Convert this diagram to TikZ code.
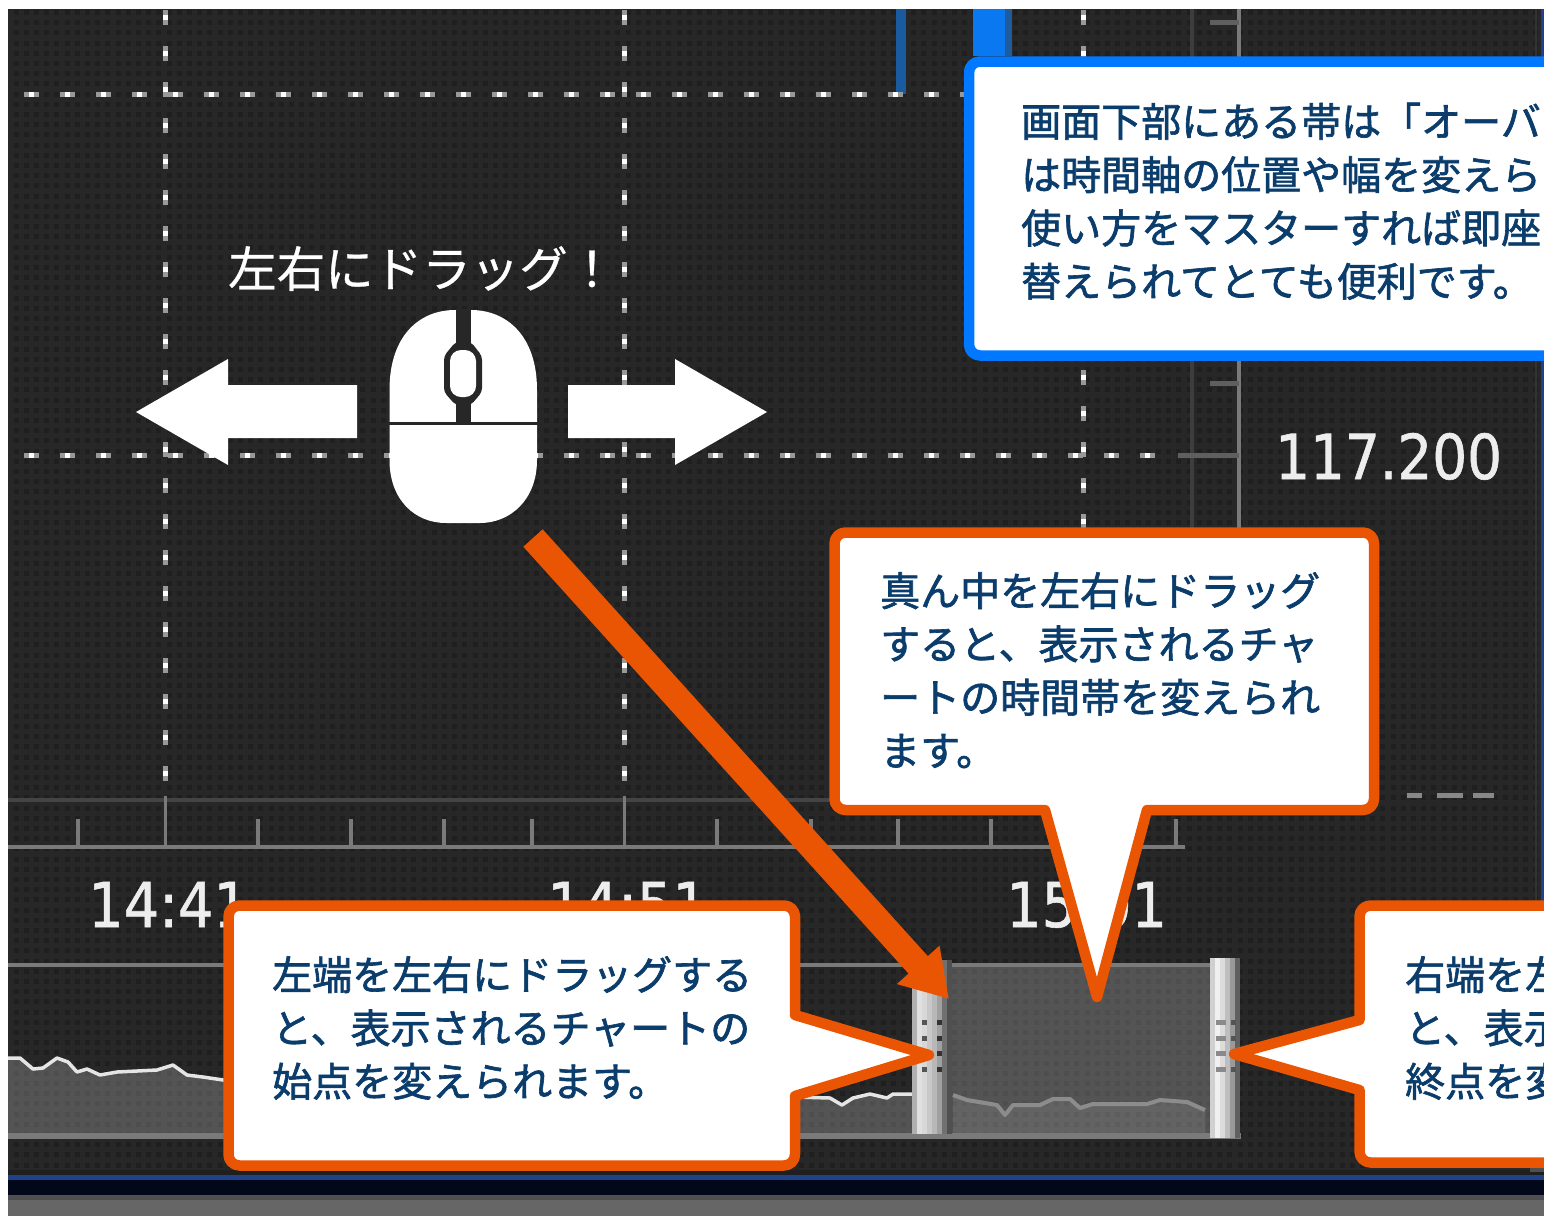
\documentclass[tikz,border=0pt]{standalone}
\usepackage{fontspec}
\usepackage{graphicx}
\usetikzlibrary{arrows.meta}
\newfontfamily\jpfont[FakeBold=0.6]{Noto Sans CJK JP}
\newfontfamily\jpbold[FakeBold=1.6]{Noto Sans CJK JP}
\newfontfamily\chartfont[FakeBold=1.0]{DejaVu Sans}
\definecolor{panel}{HTML}{272727}
\definecolor{dotc}{HTML}{1F1F1F}
\definecolor{axisc}{HTML}{7A7A7A}
\definecolor{faintc}{HTML}{444444}
\definecolor{orangec}{HTML}{EA5504}
\definecolor{bluec}{HTML}{0078FF}
\definecolor{inkc}{HTML}{0A3C6C}
\definecolor{dashc}{HTML}{999999}
\definecolor{shorttick}{HTML}{5F5F5F}
\tikzset{
  hexfill/.code={\definecolor{tmpfill}{HTML}{#1}\pgfkeysalso{fill=tmpfill}},
  hexdraw/.code={\definecolor{tmpdraw}{HTML}{#1}\pgfkeysalso{draw=tmpdraw}},
  grida/.style={line width=5pt,color=dashc,dash pattern=on 15pt off 21pt},
  gridb/.style={line width=5pt,color=white,dash pattern=on 5pt off 31pt,dash phase=-5pt},
  axisline/.style={line width=3.5pt,color=axisc},
  tickline/.style={line width=3.5pt,color=axisc},
  pricetick/.style={line width=5pt,color=shorttick},
  callout/.style={draw=orangec,fill=white,line width=10.5pt,line join=round},
  calloutblue/.style={draw=bluec,fill=white,line width=10.5pt,line join=round},
  calltext/.style={inner sep=0pt,anchor=north west,align=left,text=inkc,font=\jpbold\fontsize{40}{53.3}\selectfont},
  charttext/.style={inner sep=0pt,anchor=base west,text=white!93!black,font=\chartfont\fontsize{62}{62}\selectfont},
  chartfill/.style={fill=white,fill opacity=0.213,draw=none},
  windowfill/.style={fill=white,fill opacity=0.09,draw=none}
}
\begin{document}
\begin{tikzpicture}[x=1pt,y=-1pt]
\useasboundingbox (0,0) rectangle (1544,1216);
\clip (0,0) rectangle (1544,1216);
\fill[white] (0,0) rectangle (1544,1216);
\fill[panel] (8,9) rectangle (1544,1216);
% dot texture
\begin{scope}
\clip (8,9) rectangle (1544,1216);
\foreach \k in {0,...,116}{
  \draw[dotc,line width=5pt,dash pattern=on 5pt off 5.2pt] (13.5,12.5+10.2*\k) -- (1544,12.5+10.2*\k);
}
\end{scope}
% bars at the top
\fill[hexfill=1A5A9E] (896,9) rectangle (905.5,94);
\fill[hexfill=1F5C9E] (1004,9) rectangle (1012,56);
\fill[hexfill=0A78F0] (973,9) rectangle (1005,56);
% price axis
\draw[line width=4pt,color=faintc!90!black] (1192,9) -- (1192,530);
\draw[axisline] (1239,9) -- (1239,530);
\draw[pricetick] (1210,22) -- (1239,22);
\draw[pricetick] (1210,383) -- (1239,383);
\draw[pricetick] (1178,455) -- (1239,455);
% right edge
\draw[line width=1.5pt,hexdraw=333333] (1536,9) -- (1536,1172);
\draw[line width=3pt,hexdraw=22408A] (1542,9) -- (1542,1172);
% dashed grid
\foreach \gx in {165.5,624.5,1083.5}{
  \draw[grida] (\gx,10) -- (\gx,796);
  \draw[gridb] (\gx,10) -- (\gx,796);
}
\foreach \gy in {94.5,455}{
  \draw[grida] (24,\gy) -- (1175,\gy);
  \draw[gridb] (24,\gy) -- (1175,\gy);
}
\fill[hexfill=888888] (1407,793) rectangle (1422,798);
\fill[hexfill=888888] (1437,793) rectangle (1463,798);
\fill[hexfill=888888] (1473,793) rectangle (1494,798);
% time axis
\draw[line width=4pt,color=faintc] (8,800) -- (835,800);
\draw[axisline,line width=4pt] (8,847) -- (1185,847);
\foreach \tx in {78,258,351,444,532,717,811,898,991,1176}{
  \draw[tickline] (\tx,819) -- (\tx,847);
}
\foreach \tx in {165.5,624.5}{
  \draw[tickline] (\tx,796) -- (\tx,847);
}
% chart texts
\node[charttext] (priceL) at (1275,479) {\scalebox{0.885}[1]{117.200}};
\node[charttext] (timeA) at (88,927) {\scalebox{0.9}[1]{14:41}};
\node[charttext] (timeB) at (547,927) {\scalebox{0.9}[1]{14:51}};
\node[charttext] (timeC) at (1006,927) {\scalebox{0.9}[1]{15:01}};
% overview strip
\draw[axisline,line width=4pt] (8,965) -- (1210,965);
\fill[chartfill] (8,1058) -- (20,1058) -- (33,1069) -- (43,1068) -- (57,1058) -- (68,1062) -- (77,1072) -- (87,1069) -- (100,1075) -- (117,1072) -- (157,1070) -- (173,1065) -- (187,1075) -- (203,1077) -- (223,1080) -- (830,1098) -- (842,1105) -- (853,1098) -- (870,1094) -- (887,1098) -- (893,1094) -- (912,1094) -- (912,1134) -- (8,1134) -- cycle;
\draw[line width=3.5pt,color=white!90!black,line join=round] (8,1058) -- (20,1058) -- (33,1069) -- (43,1068) -- (57,1058) -- (68,1062) -- (77,1072) -- (87,1069) -- (100,1075) -- (117,1072) -- (157,1070) -- (173,1065) -- (187,1075) -- (203,1077) -- (223,1080) -- (830,1098) -- (842,1105) -- (853,1098) -- (870,1094) -- (887,1098) -- (893,1094) -- (912,1094);
\fill[chartfill] (947,967) rectangle (1210,1133);
\fill[windowfill] (953,1095) -- (967,1100) -- (997,1105) -- (1005,1115) -- (1013,1105) -- (1040,1105) -- (1053,1099) -- (1070,1099) -- (1080,1108) -- (1093,1104) -- (1147,1104) -- (1160,1100) -- (1187,1102) -- (1205,1110) -- (1205,1133) -- (953,1133) -- cycle;
\draw[line width=4pt,hexdraw=8C8C8C,line join=round] (953,1095) -- (967,1100) -- (997,1105) -- (1005,1115) -- (1013,1105) -- (1040,1105) -- (1053,1099) -- (1070,1099) -- (1080,1108) -- (1093,1104) -- (1147,1104) -- (1160,1100) -- (1187,1102) -- (1205,1110);
\draw[line width=5.5pt,color=axisc] (8,1136) -- (1241,1136);
% handles
\foreach \hx/\hc in {912/B0B0B0,917/E0E0E0,922/D8D8D8,927/C8C8C8,932/B8B8B8,937/A0A0A0,942/707070,947/505050}{
  \fill[hexfill=\hc] (\hx,960) rectangle (\hx+5.2,1134);
}
\foreach \hx/\hc in {1210/D0D0D0,1215/F0F0F0,1220/DCDCDC,1225/BEBEBE,1230/9A9A9A,1235/606060}{
  \fill[hexfill=\hc] (\hx,958) rectangle (\hx+5.2,1138);
}
\foreach \gy in {1022.3,1038,1053.3,1069}{
  \fill[hexfill=555555] (922,\gy-2.5) rectangle (927,\gy+2.5);
  \fill[hexfill=333333] (937,\gy-2.5) rectangle (942,\gy+2.5);
  \fill[hexfill=8A8A8A] (1216,\gy-2.5) rectangle (1226,\gy+2.5);
  \fill[hexfill=555555] (1231,\gy-2.5) rectangle (1236,\gy+2.5);
}
% bottom bands
\fill[hexfill=1F1F1F] (8,1170) rectangle (1544,1175);
\fill[hexfill=1F4288] (8,1175) rectangle (1544,1180);
\fill[hexfill=02081A] (8,1180) rectangle (1544,1195);
\fill[hexfill=4F4F4F] (8,1195) rectangle (1544,1200);
\fill[hexfill=666666] (8,1200) rectangle (1544,1216);
\fill[hexfill=4F4F4F] (1530,1165) rectangle (1544,1172);
% mouse
\fill[white] (389.5,390) .. controls (389.5,335) and (420,310) .. (455,310) -- (471,310) .. controls (506,310) and (537,335) .. (537,390) -- (537,460) .. controls (537,500) and (510,523) .. (480,523) -- (446,523) .. controls (415,523) and (389.5,500) .. (389.5,460) -- cycle;
\fill[panel] (455.5,309) rectangle (471,424);
\fill[panel,rounded corners=4pt] (455.5,342) -- (444,356) -- (444,392) -- (455.5,405) -- (471,405) -- (482,392) -- (482,356) -- (471,342) -- cycle;
\fill[panel] (388,421.5) rectangle (539,425);
\fill[white,rounded corners=11pt] (450,350) rectangle (476,397);
% drag arrows
\fill[white] (357,385) -- (228,385) -- (228,359) -- (136,412) -- (228,465) -- (228,438) -- (357,438) -- cycle;
\fill[white] (568,385) -- (675,385) -- (675,359) -- (767,412) -- (675,465) -- (675,438) -- (568,438) -- cycle;
\node[inner sep=0pt,anchor=base west,text=white,font=\jpfont\fontsize{48.5}{48.5}\selectfont] (dragtitle) at (228,287) {左右にドラッグ！};
% orange arrow
\coordinate (arrowstart) at (533,538);
\coordinate (arrowtip) at (949,999);
\draw[orangec,line width=26pt,-{Triangle[length=46pt,width=54pt]}] (arrowstart) -- (arrowtip);
% callouts
\draw[calloutblue,rounded corners=11pt] (969,61.5) rectangle (1570,355.5);
\node[calltext] (bluetext) at (1021,102.5) {画面下部にある帯は「オーバ\\は時間軸の位置や幅を変えら\\使い方をマスターすれば即座\\替えられてとても便利です。};
\draw[callout] (834.5,621) [rounded corners=11pt] -- (834.5,532.5) -- (1374,532.5) -- (1374,810) [sharp corners] -- (1147,810) -- (1097,997) -- (1045,810) [rounded corners=11pt] -- (834.5,810) -- cycle;
\node[calltext] (midtext) at (880,572) {真ん中を左右にドラッグ\\すると、表示されるチャ\\ートの時間帯を変えられ\\ます。};
\draw[callout] (228.5,1035) [rounded corners=11pt] -- (228.5,905.5) -- (795,905.5) [sharp corners] -- (795,1015) -- (929,1055) -- (795,1096) [rounded corners=11pt] -- (795,1165.5) -- (228.5,1165.5) -- cycle;
\node[calltext] (lefttext) at (272,956) {左端を左右にドラッグする\\と、表示されるチャートの\\始点を変えられます。};
\draw[callout] (1570,905.5) [rounded corners=11pt] -- (1359.5,905.5) [sharp corners] -- (1359.5,1020) -- (1234,1054) -- (1359.5,1090) [rounded corners=11pt] -- (1359.5,1162.5) -- (1570,1162.5);
\node[calltext] (righttext) at (1405,956) {右端を左\\と、表示\\終点を変};
\end{tikzpicture}
\end{document}
